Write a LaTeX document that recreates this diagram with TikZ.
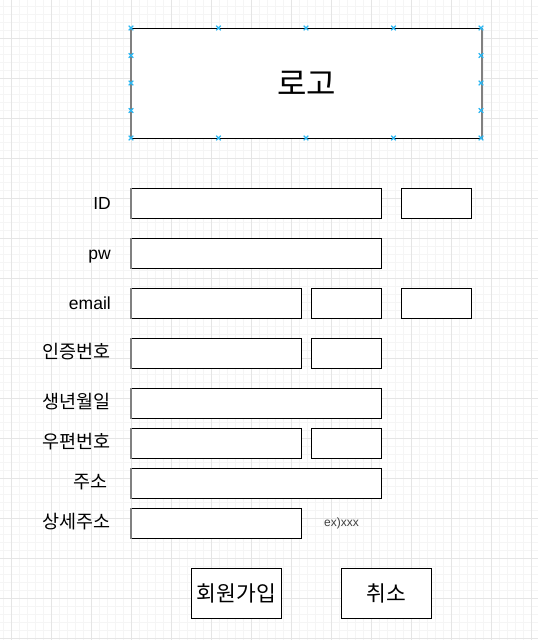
\documentclass[tikz,border=0pt]{standalone}
\usepackage{fontspec}
\setmainfont{Liberation Sans}
\newfontfamily\kr{Noto Sans CJK KR}
\definecolor{mkblue}{RGB}{41,182,242}
\begin{document}
\begin{tikzpicture}[x=1pt,y=-1pt,
  field/.style={draw=black,line width=1pt,fill=white,anchor=north west,inner sep=0pt,minimum height=30pt},
  btn/.style={draw=black,line width=1pt,fill=white,anchor=north west,inner sep=0pt,minimum height=50pt},
  lbl/.style={anchor=base east,inner sep=0pt,font=\fontsize{17.5}{19}\selectfont},
  klbl/.style={anchor=east,inner sep=0pt,font=\kr\fontsize{18.5}{20}\selectfont},
  mk/.style={draw=mkblue,line width=1.2pt}]
\useasboundingbox (0,0) rectangle (538,640);
\fill[white] (0,0) rectangle (538,640);
% grid
\foreach \x in {3,11,...,538} \draw[color=black!4,line width=0.6pt] (\x,0) -- (\x,640);
\foreach \y in {6,14,...,640} \draw[color=black!4,line width=0.6pt] (0,\y) -- (538,\y);
\foreach \x in {11,51,...,538} \draw[color=black!10,line width=0.8pt] (\x,0) -- (\x,640);
\foreach \y in {38,78,...,640} \draw[color=black!10,line width=0.8pt] (0,\y) -- (538,\y);
% logo
\node[draw=black,line width=1pt,fill=white,anchor=north west,minimum width=350pt,minimum height=110pt,inner sep=0pt,font=\kr\fontsize{32}{34}\selectfont] (logo) at (131,28) {로고};
\draw[color=black!50,line width=2pt] (logo.north west) -- (logo.south west);
\draw[color=black!50,line width=2pt] (logo.north east) -- (logo.south east);
\foreach \px in {131,218.5,306,393.5,481}{
  \foreach \py in {28,138}{
    \draw[mk] (\px-2.3,\py-2.3) -- (\px+2.3,\py+2.3) (\px-2.3,\py+2.3) -- (\px+2.3,\py-2.3);
  }
}
\foreach \px in {131,481}{
  \foreach \py in {55.5,83,110.5}{
    \draw[mk] (\px-2.3,\py-2.3) -- (\px+2.3,\py+2.3) (\px-2.3,\py+2.3) -- (\px+2.3,\py-2.3);
  }
}
% fields
\node[field,minimum width=250pt] (id1) at (131,188) {};
\node[field,minimum width=70pt] (id2) at (401,188) {};
\node[field,minimum width=250pt] (pw1) at (131,238) {};
\node[field,minimum width=170pt] (em1) at (131,288) {};
\node[field,minimum width=70pt] (em2) at (311,288) {};
\node[field,minimum width=70pt] (em3) at (401,288) {};
\node[field,minimum width=170pt] (ce1) at (131,338) {};
\node[field,minimum width=70pt] (ce2) at (311,338) {};
\node[field,minimum width=250pt] (bd1) at (131,388) {};
\node[field,minimum width=170pt] (zp1) at (131,428) {};
\node[field,minimum width=70pt] (zp2) at (311,428) {};
\node[field,minimum width=250pt] (ad1) at (131,468) {};
\node[field,minimum width=170pt] (ad2) at (131,508) {};
\foreach \n in {id1,pw1,em1,ce1,bd1,zp1,ad1,ad2}
  \draw[color=black!50,line width=1.6pt] (\n.north west) -- (\n.south west);
% labels
\node[lbl] (lid) at (111,209) {ID};
\node[lbl] (lpw) at (111,259) {pw};
\node[lbl] (lem) at (111,309) {email};
\node[klbl] (lce) at (111,352) {인증번호};
\node[klbl] (lbd) at (111,402) {생년월일};
\node[klbl] (lzp) at (111,442) {우편번호};
\node[klbl] (lad) at (108,482) {주소};
\node[klbl] (lad2) at (111,522) {상세주소};
\node[anchor=west,inner sep=0pt,font=\fontsize{12}{14}\selectfont,text=black!75] (ex) at (324,523.5) {ex)xxx};
% buttons
\node[btn,minimum width=90pt,font=\kr\fontsize{21.5}{24}\selectfont] (join) at (191,568) {회원가입};
\node[btn,minimum width=90pt,font=\kr\fontsize{21.5}{24}\selectfont] (cancel) at (341,568) {취소};
\end{tikzpicture}
\end{document}
